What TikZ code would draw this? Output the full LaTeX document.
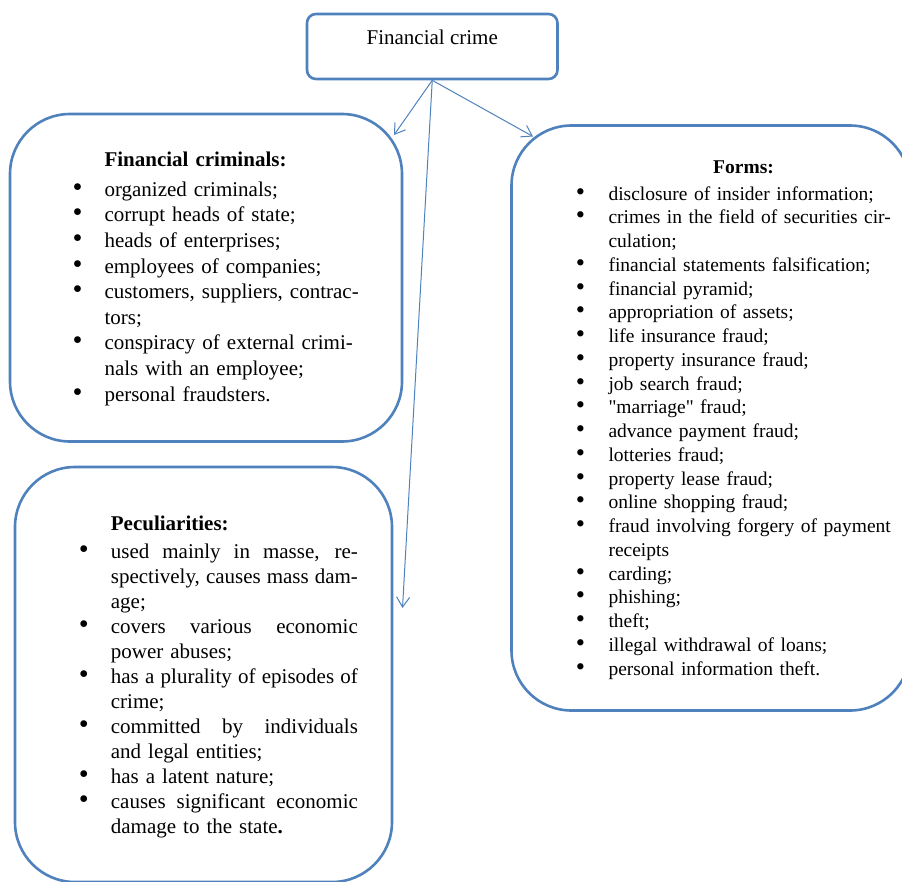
\documentclass[tikz,border=0pt]{standalone}
\usepackage{fontspec}
\setmainfont{Liberation Serif}[Ligatures=TeXOff]
\usepackage{graphicx}
\usetikzlibrary{arrows.meta}
\definecolor{boxblue}{RGB}{79,129,189}
\newlength{\bulind}
\setlength{\bulind}{27pt}
\newcommand{\bitem}[1]{\par\hangindent=\bulind\hangafter=1\noindent\makebox[\bulind][l]{\makebox[0pt]{\scalebox{1.35}{\textbullet}}}#1}
\newcommand{\jline}[1]{\hbox to 247pt{\spaceskip=0.25em plus 1fil minus 0.1em #1}}
\begin{document}
\begin{tikzpicture}[x=1pt, y=-1pt,
    box/.style={rectangle, draw=boxblue, line width=2.6pt, rounded corners=#1},
    list/.style={text width=#1, align=left, inner sep=0pt, anchor=base west},
    link/.style={-{Straight Barb[length=10pt,width=13pt]}, line width=1pt, draw=boxblue}
]
    \useasboundingbox (0,0) rectangle (902,881);

    % Top block
    \node[box=9pt, minimum width=250.5pt, minimum height=65pt, inner sep=0pt, text height=15pt, text depth=19pt, font=\fontsize{21}{25}\selectfont] (crime) at (432.25, 46.5) {Financial crime};

    % Frames
    \node[box=60pt, minimum width=392pt, minimum height=327.5pt] (criminals) at (206, 277.75) {};
    \node[box=60pt, minimum width=377pt, minimum height=415pt] (peculiar) at (203.5, 674.5) {};
    \node[box=60pt, minimum width=398.5pt, minimum height=585pt] (forms) at (710.75, 418) {};

    % Lists
    \node[list=320pt, font=\fontsize{21}{25.6}\selectfont] (criminalstext) at (77.3, 166.7) {%
        \hspace*{\bulind}\textbf{Financial criminals:}\par\vspace{4pt}
        \bitem{organized criminals;}
        \bitem{corrupt heads of state;}
        \bitem{heads of enterprises;}
        \bitem{employees of companies;}
        \bitem{customers, suppliers, contrac-\newline tors;}
        \bitem{conspiracy of external crimi-\newline nals with an employee;}
        \bitem{personal fraudsters.}\par};
    \node[list=300pt, font=\fontsize{21}{25}\selectfont] (peculiartext) at (83.7, 530.7) {%
        \hspace*{\bulind}\textbf{Peculiarities:}\par\vspace{3pt}
        \bitem{\jline{used mainly in masse, re-}\newline\jline{spectively, causes mass dam-}\newline age;}
        \bitem{\jline{covers various economic}\newline power abuses;}
        \bitem{\jline{has a plurality of episodes of}\newline crime;}
        \bitem{\jline{committed by individuals}\newline and legal entities;}
        \bitem{has a latent nature;}
        \bitem{\jline{causes significant economic}\newline damage to the state\textbf{.}}\par};
    \node[list=340pt, font=\fontsize{19.5}{23.75}\selectfont\setlength{\bulind}{28pt}] (formstext) at (580.3, 173.3) {%
        \hspace*{\bulind}\makebox[270pt]{\textbf{Forms:}}\par\vspace{3pt}
        \bitem{disclosure of insider information;}
        \bitem{crimes in the field of securities cir-\newline culation;}
        \bitem{financial statements falsification;}
        \bitem{financial pyramid;}
        \bitem{appropriation of assets;}
        \bitem{life insurance fraud;}
        \bitem{property insurance fraud;}
        \bitem{job search fraud;}
        \bitem{"marriage" fraud;}
        \bitem{advance payment fraud;}
        \bitem{lotteries fraud;}
        \bitem{property lease fraud;}
        \bitem{online shopping fraud;}
        \bitem{fraud involving forgery of payment\newline receipts}
        \bitem{carding;}
        \bitem{phishing;}
        \bitem{theft;}
        \bitem{illegal withdrawal of loans;}
        \bitem{personal information theft.}\par};

    % Connections
    \coordinate (tipcriminals) at (394, 135);
    \coordinate (tippeculiar) at (402.5, 608);
    \coordinate (tipforms) at (533, 136.5);
    \draw[link] (crime.south) -- (tipcriminals);
    \draw[link] (crime.south) -- (tippeculiar);
    \draw[link] (crime.south) -- (tipforms);
\end{tikzpicture}
\end{document}
